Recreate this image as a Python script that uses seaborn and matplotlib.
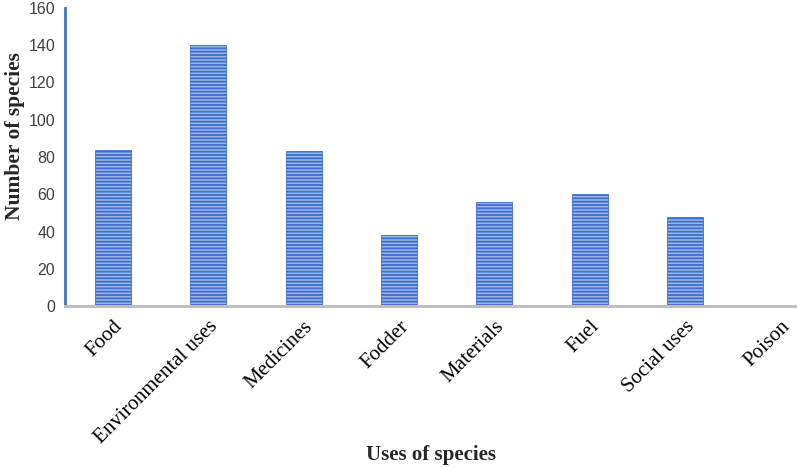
import matplotlib
matplotlib.use("Agg")
import matplotlib.pyplot as plt
import seaborn as sns
import pandas as pd

categories = ["Food", "Environmental uses", "Medicines", "Fodder", "Materials",
              "Fuel", "Social uses", "Poison"]
values = [84, 140, 83, 38, 56, 60, 48, 0]
yticks = [0, 20, 40, 60, 80, 100, 120, 140, 160]

df = pd.DataFrame({"use": categories, "n": values})

sns.set_theme(style="white")
plt.rcParams["hatch.linewidth"] = 1.3

fig = plt.figure(figsize=(7.97, 4.67), dpi=100)
ax = fig.add_axes([65/797, 161/467, 1 - 65/797, (306-8)/467])

sns.barplot(data=df, x="use", y="n", ax=ax, color="#9cb8ea", width=0.377,
            edgecolor="#3f6fcc", linewidth=0.6, saturation=1)
for p in ax.patches:
    p.set_hatch("-----")

ax.set_xlim(-0.5, 7.17)
ax.set_ylim(0, 160)
ax.set_yticks(yticks)
ax.set_yticklabels([str(t) for t in yticks], fontsize=11.5, color="#404040",
                   family="Liberation Sans")
ax.set_xticks(range(len(categories)))
ax.set_xticklabels(categories, rotation=45, ha="right", rotation_mode="anchor",
                   fontsize=15, family="Liberation Serif", color="#000000")
ax.tick_params(axis="y", length=0, pad=7)
ax.tick_params(axis="x", length=0, pad=8)

for s in ["top", "right"]:
    ax.spines[s].set_visible(False)
ax.spines["left"].set_color("#4472c4")
ax.spines["left"].set_linewidth(2)
ax.spines["bottom"].set_color("#bfbfbf")
ax.spines["bottom"].set_linewidth(2.2)

ax.set_xlabel("Uses of species", fontsize=15, fontweight="bold",
              family="Liberation Serif")
ax.xaxis.set_label_coords(0.5, -(465 - 306) / 298)
ax.xaxis.label.set_va("bottom")
ax.set_ylabel("Number of species", fontsize=15.5, fontweight="bold",
              family="Liberation Serif")
ax.yaxis.set_label_coords((25 - 65) / 732, (306 - 136) / 298)

fig.savefig("out.png", dpi=100)
